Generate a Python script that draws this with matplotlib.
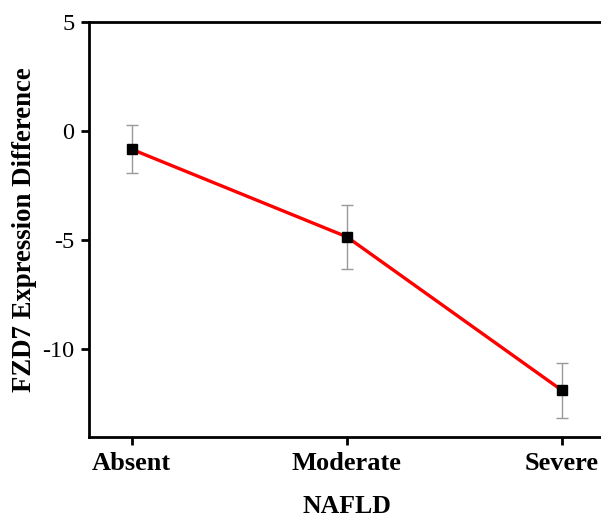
import matplotlib.pyplot as plt

categories = ["Absent", "Moderate", "Severe"]
means = [-0.84, -4.86, -11.91]
errors = [1.09, 1.47, 1.26]
y_ticks = [5, 0, -5, -10]

plt.rcParams["font.family"] = ["Liberation Serif", "DejaVu Serif"]

fig = plt.figure(figsize=(6.01, 5.17), dpi=100)
ax = fig.add_axes([88.5 / 601, 80 / 517, 516.5 / 601, 415 / 517])

x = list(range(len(categories)))
ax.errorbar(x, means, yerr=errors, fmt="none", ecolor="#999999", elinewidth=1.0,
            capsize=4, capthick=1.0, zorder=2)
ax.plot(x, means, color="#ff0000", linewidth=2.4, zorder=3)
ax.plot(x, means, linestyle="none", marker="s", markersize=7, color="black", zorder=4)

ax.set_xlim(-0.2, 2.2)
ax.set_ylim(-14.05, 5)
ax.set_xticks(x)
ax.set_xticklabels(categories, fontweight="bold", fontsize=19)
ax.set_yticks(y_ticks)
ax.set_yticklabels([str(t) for t in y_ticks], fontsize=17.5)

for spine in ax.spines.values():
    spine.set_linewidth(2.0)
ax.tick_params(axis="both", direction="out", length=6, width=2.0, pad=4)
ax.tick_params(axis="x", pad=5)

ax.set_xlabel("NAFLD", fontsize=18.5, fontweight="bold", labelpad=14)
ax.set_ylabel("FZD7 Expression Difference", fontsize=19.3, fontweight="bold", labelpad=4)

fig.savefig("out.png", dpi=100)
